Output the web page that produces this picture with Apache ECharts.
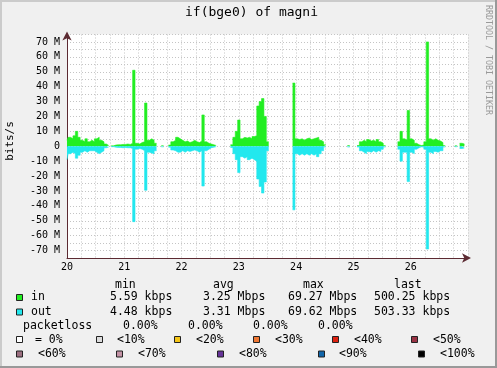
<!DOCTYPE html>
<html>
<head>
<meta charset="utf-8">
<script src="https://cdn.jsdelivr.net/npm/echarts@6/dist/echarts.min.js"></script>
<style>
html, body { margin: 0; padding: 0; background: #f0f0f0; }
#main { width: 497px; height: 368px; }
</style>
</head>
<body>
<div id="main"></div>
<script>
// hourly traffic, Mbit/s, one row per day (20 .. 26), null = no data
var inRate = [
    4, 6, 5, 7, 10, 6, 4, 3, 5, 3, 4, 3, 5, 6, 4, 3, 1.5, 0.5, null, 0.3, 0.8, 1, 1, 1.2,
    1.2, 1.5, 1.2, 2, 51, 2, 1.5, 2.5, 3, 29, 4, 5, 4, 2, null, null, 0.4, null, null, 0.8, 3, 4, 6, 5,
    4, 3, 3.5, 2.5, 3, 4, 3, 2.5, 3.5, 21, 3, 2, 1.5, 1, 0.5, null, null, null, null, null, null, 1, 6, 10,
    17.6, 5, 6, 5.5, 6, 5, 6.5, 7, 27, 30, 32, 20, 3, null, null, null, null, null, null, null, null, null, null, 42.4,
    5, 4.5, 5, 4, 5, 5.5, 4.5, 5, 5.5, 6, 4, 3, 1, null, null, null, null, null, null, null, null, null, 0.5, null,
    null, null, 0.5, 3, 4, 3, 4.5, 3.5, 4, 3, 4.5, 3, 2, 0.5, null, null, null, null, null, 3, 10, 5, 4, 24,
    5, 4, 2, 1, 0.5, 0.8, 3, 70, 5, 4, 5, 4, 3.5, 2.5, 0.5, null, null, null, null, 0.3, null, 2, 1.5, null
];
var outRate = [
    9, 5, 4, 5, 8, 6, 4, 3, 4, 3, 3, 3, 4, 5, 4, 3, 1, 0.5, null, 0.3, 0.6, 0.8, 0.8, 1,
    0.8, 1, 1, 1.5, 50.6, 2, 1.5, 2, 3, 29.5, 4, 4.5, 5, 3, null, null, 0.4, null, null, 0.6, 2.5, 3, 4, 4,
    3, 4, 3, 3.5, 3, 2.5, 3, 4, 3, 26.7, 3, 2, 1, 0.6, 0.3, null, null, null, null, null, null, 0.8, 5, 9,
    17.7, 7, 8, 7, 9, 8, 9, 10, 22, 27, 31.4, 24, 3, null, null, null, null, null, null, null, null, null, null, 42.7,
    5, 6, 5, 6, 5, 6, 5, 6, 5, 7, 5, 3, 0.5, null, null, null, null, null, null, null, null, null, 0.5, null,
    null, null, 0.5, 3, 4, 5, 3.5, 4, 3, 4, 3, 3.5, 2, 0.5, null, null, null, null, null, 2, 10, 4, 4, 23.7,
    4, 5, 2, 1, 0.4, 0.6, 2, 69, 4, 5, 3.5, 4, 3, 3, 0.5, null, null, null, null, 0.3, null, 1.5, 1.2, null
];
var firstDay = 20;
var lastDay = 27;

var statHeads = ['min', 'avg', 'max', 'last'];
var inStats = ['5.59 kbps', '3.25 Mbps', '69.27 Mbps', '500.25 kbps'];
var outStats = ['4.48 kbps', '3.31 Mbps', '69.62 Mbps', '503.33 kbps'];
var lossStats = ['0.00%', '0.00%', '0.00%', '0.00%'];
var lossLabels1 = ['= 0%', '<10%', '<20%', '<30%', '<40%', '<50%'];
var lossColors1 = ['#ffffff', '#dcdcdc', '#f5c518', '#ee7733', '#dd2211', '#993344'];
var lossLabels2 = ['<60%', '<70%', '<80%', '<90%', '<100%'];
var lossColors2 = ['#9c6f80', '#c493a6', '#663399', '#1166aa', '#000000'];

var IN_COLOR = '#22ee22';
var OUT_COLOR = '#22e8ee';
var FONT = '"DejaVu Sans Mono", monospace';

function toPoints(arr, sign){
    var pts = [];
    for (var i = 0; i < arr.length; i++){
        var v = arr[i];
        pts.push([firstDay + i / 24, v == null ? '-' : sign * v]);
    }
    return pts;
}

function txt(s, x, y, size, opt){
    opt = opt || {};
    return {
        type: 'text', x: x, y: y, rotation: opt.rot || 0, silent: true,
        style: {
            text: s, font: size + 'px ' + FONT, fill: opt.color || '#000',
            align: opt.align || 'left', verticalAlign: 'middle',
            textAlign: opt.align || 'left', textVerticalAlign: 'middle'
        }
    };
}
function square(x, y, color){
    return {
        type: 'rect', silent: true,
        shape: { x: x + 0.5, y: y + 0.5, width: 6, height: 6 },
        style: { fill: color, stroke: '#222', lineWidth: 1 }
    };
}

var g = [];
// frame
g.push({ type: 'rect', shape: { x: 0, y: 0, width: 497, height: 2 }, style: { fill: '#cbcbcb' } });
g.push({ type: 'rect', shape: { x: 0, y: 0, width: 2, height: 368 }, style: { fill: '#cbcbcb' } });
g.push({ type: 'rect', shape: { x: 0, y: 366, width: 497, height: 2 }, style: { fill: '#999999' } });
g.push({ type: 'rect', shape: { x: 495, y: 0, width: 2, height: 368 }, style: { fill: '#999999' } });

g.push(txt('if(bge0) of magni', 251.5, 13, 13, { align: 'center' }));
g.push(txt('bits/s', 10, 141, 11, { align: 'center', rot: Math.PI / 2 }));
g.push(txt('RRDTOOL / TOBI OETIKER', 488, 60, 8.3, { align: 'center', rot: -Math.PI / 2, color: '#999' }));

// legend table
var colX = [115, 213, 303, 394];
var numX = [110, 203, 288, 374];
for (var i = 0; i < 4; i++){
    g.push(txt(statHeads[i], colX[i], 285, 11.5));
    g.push(txt(inStats[i], numX[i], 297.5, 11.5));
    g.push(txt(outStats[i], numX[i], 312, 11.5));
}
g.push(square(16, 294, IN_COLOR));
g.push(txt('in', 31, 297.5, 11.5));
g.push(square(16, 308.5, OUT_COLOR));
g.push(txt('out', 31, 312, 11.5));

g.push(txt('packetloss', 23, 326, 11.5));
var lossX = [123, 188, 253, 318];
for (var i = 0; i < 4; i++){
    g.push(txt(lossStats[i], lossX[i], 326, 11.5));
}
var sq1 = [16, 96, 174, 253, 332, 411], lb1 = [35, 117, 196, 275, 354, 433];
for (var i = 0; i < lossLabels1.length; i++){
    g.push(square(sq1[i], 336, lossColors1[i]));
    g.push(txt(lossLabels1[i], lb1[i], 340, 11.5));
}
var sq2 = [16, 116, 217, 318, 418], lb2 = [38, 138, 239, 339, 440];
for (var i = 0; i < lossLabels2.length; i++){
    g.push(square(sq2[i], 350.5, lossColors2[i]));
    g.push(txt(lossLabels2[i], lb2[i], 354.5, 11.5));
}

var axisCol = '#5c2a32';
var gridLine = { show: true, lineStyle: { color: '#c4c4c4', type: [1, 2], width: 1 } };

var option = {
    animation: false,
    backgroundColor: '#f0f0f0',
    grid: { left: 67, right: 29, top: 34.5, bottom: 110, show: true, backgroundColor: '#ffffff', borderWidth: 0 },
    xAxis: {
        type: 'value', min: firstDay, max: lastDay, interval: 0.25,
        axisLine: { onZero: false, lineStyle: { color: axisCol, width: 1 }, symbol: ['none', 'arrow'], symbolSize: [7, 9], symbolOffset: [0, 3] },
        axisTick: { show: false },
        splitLine: gridLine,
        axisLabel: {
            margin: 4, color: '#000', fontFamily: 'DejaVu Sans Mono', fontSize: 10,
            formatter: function(v){ return (Math.abs(v - Math.round(v)) < 1e-9 && v < lastDay) ? String(Math.round(v)) : ''; }
        }
    },
    yAxis: {
        type: 'value', min: -75, max: 75, interval: 5,
        axisLine: { show: true, onZero: false, lineStyle: { color: axisCol, width: 1 }, symbol: ['none', 'arrow'], symbolSize: [7, 9], symbolOffset: [0, 3] },
        axisTick: { show: false },
        splitLine: gridLine,
        axisLabel: {
            margin: 7, color: '#000', fontFamily: 'DejaVu Sans Mono', fontSize: 10,
            formatter: function(v){
                if (v % 10 !== 0 || Math.abs(v) > 70) return '';
                return v === 0 ? '0' : v + ' M';
            }
        }
    },
    series: [
        {
            name: 'in', type: 'line', step: 'middle', showSymbol: false, connectNulls: false,
            data: toPoints(inRate, 1),
            lineStyle: { color: IN_COLOR, width: 0.6 },
            areaStyle: { color: IN_COLOR, opacity: 1 },
            itemStyle: { color: IN_COLOR }
        },
        {
            name: 'out', type: 'line', step: 'middle', showSymbol: false, connectNulls: false,
            data: toPoints(outRate, -1),
            lineStyle: { color: OUT_COLOR, width: 0.6 },
            areaStyle: { color: OUT_COLOR, opacity: 1 },
            itemStyle: { color: OUT_COLOR }
        }
    ],
    graphic: g
};

var myChart = echarts.init(document.getElementById('main'), null, { renderer: 'canvas' });
myChart.setOption(option);
</script>
</body>
</html>
